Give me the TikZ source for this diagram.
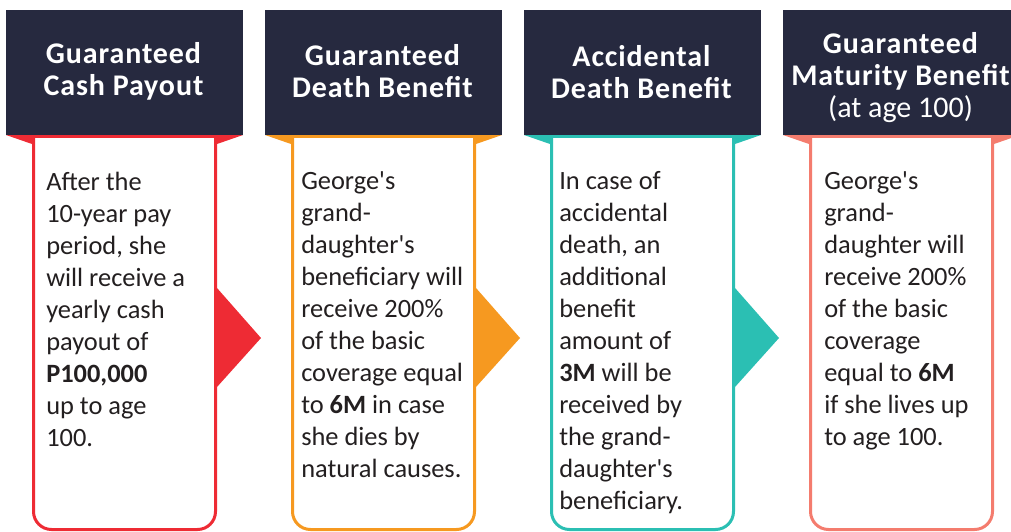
\documentclass[tikz,border=0pt]{standalone}
\usepackage{fontspec}
\setmainfont{Carlito}[Ligatures=TeXOff]
\newfontfamily\hdfont{Carlito}[Ligatures=TeXOff, LetterSpace=3]
\newfontfamily\plainfont{Carlito}[Ligatures=TeXOff]
\definecolor{hdnavy}{RGB}{38,41,63}
\definecolor{redc}{RGB}{238,43,52}
\definecolor{orangec}{RGB}{246,153,32}
\definecolor{tealc}{RGB}{43,191,179}
\definecolor{salmonc}{RGB}{244,124,110}
\definecolor{inkc}{RGB}{35,31,32}
\tikzset{
	header/.style={text=white, font=\hdfont\fontsize{22.5}{24}\selectfont\bfseries, align=center, inner sep=0},
	body/.style={text=inkc, font=\fontsize{19.8}{24}\selectfont, align=left, anchor=north west, inner sep=0},
	card/.style={line width=2.25pt, fill=white, rounded corners=13.5pt},
}
% #1 colour, #2 left edge of the header
\def\column[#1](#2){
	\fill[hdnavy] (#2,10) rectangle ({#2+237},135);
	\fill[#1] (#2,135) -- ({#2+237},135) -- ({#2+211},144) -- ({#2+26},144) -- cycle;
	\draw[card, draw=#1] ({#2+27.5},138) -- ({#2+27.5},529.5) -- ({#2+209.5},529.5) -- ({#2+209.5},138);
}

\begin{document}
\begin{tikzpicture}[x=0.75pt, y=-0.75pt]
	\clip (0,0) rectangle (1011,532);

	\column[redc](6)
	\column[orangec](265)
	\column[tealc](524)
	\column[salmonc](783)

	\fill[redc] (217,288) -- (261,338) -- (217,387) -- cycle;
	\fill[orangec] (476,288) -- (520,338) -- (476,387) -- cycle;
	\fill[tealc] (735,288) -- (779,338) -- (735,387) -- cycle;

	\node[header] (hdcash) at (123.5,71) {Guaranteed\\Cash Payout};
	\node[header] (hddeath) at (382.5,71) {Guaranteed\\Death Benefit};
	\node[header] (hdaccident) at (641.5,72) {Accidental\\Death Benefit};
	\node[header] (hdmaturity) at (900.5,78) {Guaranteed\\Maturity Benefit\\{\plainfont\mdseries (at age 100)}};

	\node[body] (txcash) at (46,171.5) {After the\\10-year pay\\period, she\\will receive a\\yearly cash\\payout of\\\textbf{P100,000}\\up to age\\100.};
	\node[body] (txdeath) at (301,171.5) {George's\\grand-\\daughter's\\beneficiary will\\receive 200\%\\of the basic\\coverage equal\\to \textbf{6M} in case\\she dies by\\natural causes.};
	\node[body] (txaccident) at (559,171.5) {In case of\\accidental\\death, an\\additional\\benefit\\amount of\\\textbf{3M} will be\\received by\\the grand-\\daughter's\\beneficiary.};
	\node[body] (txmaturity) at (824,171.5) {George's\\grand-\\daughter will\\receive 200\%\\of the basic\\coverage\\equal to \textbf{6M}\\if she lives up\\to age 100.};
\end{tikzpicture}
\end{document}
